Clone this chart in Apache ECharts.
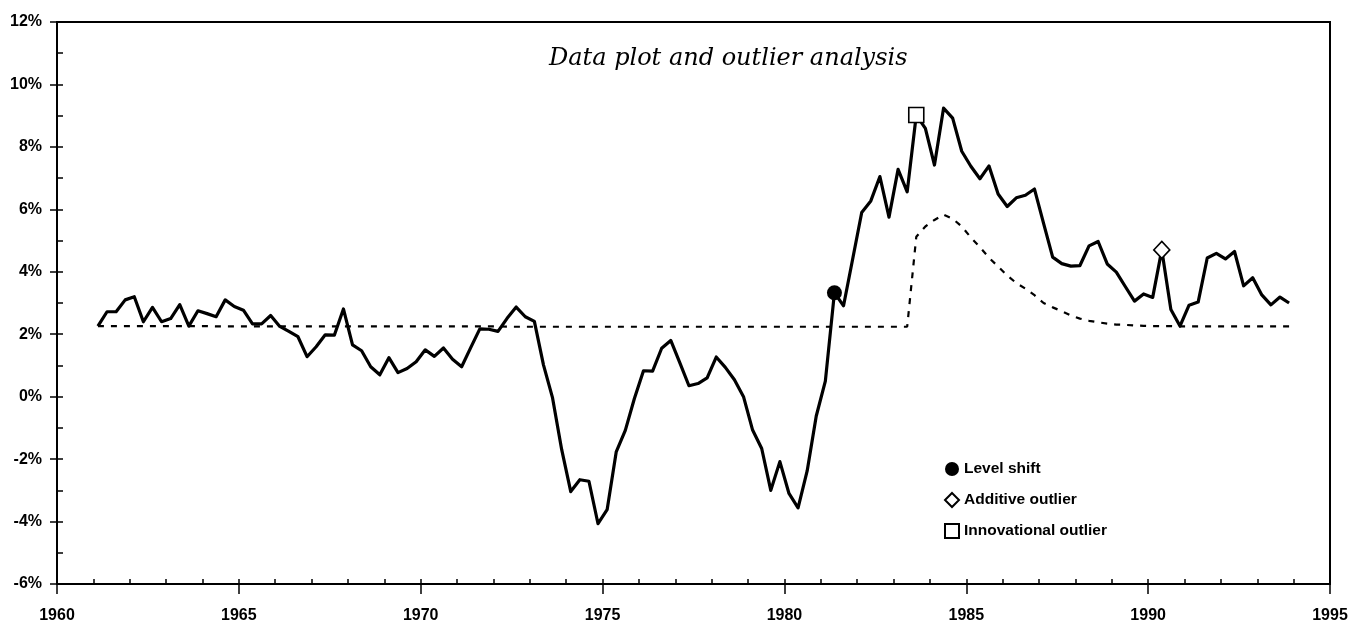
<!DOCTYPE html>
<html>
<head>
<meta charset="utf-8">
<script src="https://cdn.jsdelivr.net/npm/echarts@6/dist/echarts.min.js"></script>
<style>
  html, body { margin: 0; padding: 0; background: #fff; }
  #chart { width: 1360px; height: 640px; }
</style>
</head>
<body>
<div id="chart"></div>
<script>
// Quarterly series, 1961Q1 .. 1993Q4 (each quarter plotted at its mid-point)
const startYear = 1961;

// Observed series, percent
const actual = [
  2.26, 2.72, 2.72, 3.10, 3.20, 2.40, 2.86, 2.40, 2.50, 2.95,
  2.26, 2.75, 2.66, 2.56, 3.10, 2.89, 2.77, 2.33, 2.33, 2.60,
  2.25, 2.09, 1.92, 1.28, 1.60, 1.98, 1.97, 2.81, 1.66, 1.47,
  0.96, 0.70, 1.25, 0.77, 0.90, 1.12, 1.50, 1.29, 1.56, 1.20,
  0.96, 1.57, 2.17, 2.16, 2.09, 2.51, 2.87, 2.56, 2.41, 1.02,
  -0.04, -1.69, -3.04, -2.66, -2.71, -4.07, -3.62, -1.77, -1.08, -0.06,
  0.83, 0.82, 1.55, 1.80, 1.08, 0.35, 0.42, 0.60, 1.27, 0.94,
  0.54, 0.00, -1.07, -1.66, -3.00, -2.08, -3.10, -3.56, -2.38, -0.62,
  0.50, 3.33, 2.91, 4.40, 5.90, 6.27, 7.05, 5.75, 7.28, 6.56,
  9.02, 8.59, 7.42, 9.24, 8.92, 7.86, 7.38, 6.98, 7.39, 6.49,
  6.09, 6.37, 6.45, 6.65, 5.55, 4.47, 4.26, 4.18, 4.20, 4.83,
  4.97, 4.25, 3.99, 3.52, 3.06, 3.29, 3.18, 4.70, 2.79, 2.26,
  2.93, 3.03, 4.44, 4.59, 4.41, 4.65, 3.55, 3.81, 3.26, 2.94,
  3.19, 3.00
];

// Fitted model path, percent
const model = [
  2.26, 2.26, 2.26, 2.26, 2.26, 2.26, 2.26, 2.26, 2.26, 2.26,
  2.26, 2.26, 2.26, 2.25, 2.25, 2.25, 2.25, 2.25, 2.25, 2.25,
  2.25, 2.25, 2.25, 2.25, 2.25, 2.25, 2.25, 2.25, 2.25, 2.25,
  2.25, 2.25, 2.25, 2.25, 2.25, 2.25, 2.25, 2.25, 2.25, 2.25,
  2.25, 2.25, 2.25, 2.25, 2.25, 2.24, 2.24, 2.24, 2.24, 2.24,
  2.24, 2.24, 2.24, 2.24, 2.24, 2.24, 2.24, 2.24, 2.24, 2.24,
  2.24, 2.24, 2.24, 2.24, 2.24, 2.24, 2.24, 2.24, 2.24, 2.24,
  2.24, 2.24, 2.24, 2.24, 2.24, 2.24, 2.24, 2.24, 2.24, 2.24,
  2.24, 2.24, 2.24, 2.24, 2.24, 2.24, 2.24, 2.24, 2.24, 2.24,
  5.12, 5.45, 5.66, 5.83, 5.70, 5.45, 5.10, 4.79, 4.45, 4.17,
  3.88, 3.64, 3.46, 3.25, 3.00, 2.86, 2.74, 2.60, 2.50, 2.43,
  2.38, 2.34, 2.31, 2.30, 2.28, 2.27, 2.26, 2.26, 2.26, 2.25,
  2.25, 2.25, 2.25, 2.25, 2.25, 2.25, 2.25, 2.25, 2.25, 2.25,
  2.25, 2.25
];

// Positions (quarter index) of the detected outliers
const levelShiftAt = [81];
const additiveAt = [117];
const innovationalAt = [90];

// Axis ticks
const yearTicks = [1960, 1965, 1970, 1975, 1980, 1985, 1990, 1995];
const pctTicks = [-6, -4, -2, 0, 2, 4, 6, 8, 10, 12];

const labelFont = "'Liberation Sans', Arial, sans-serif";

const quarterDate = i => startYear + (i + 0.5) / 4;
const toPairs = arr => arr.map((v, i) => [quarterDate(i), v]);
const pick = idx => idx.map(i => [quarterDate(i), actual[i]]);

const xMin = yearTicks[0], xMax = yearTicks[yearTicks.length - 1];
const xStep = yearTicks[1] - yearTicks[0];
const yMin = pctTicks[0], yMax = pctTicks[pctTicks.length - 1];
const yStep = pctTicks[1] - pctTicks[0];

const black = '#000';

const chart = echarts.init(document.getElementById('chart'), null, { renderer: 'canvas' });

chart.setOption({
  animation: false,
  backgroundColor: '#fff',
  title: {
    text: 'Data plot and outlier analysis',
    left: 544,
    top: 42,
    textStyle: {
      fontFamily: "'DejaVu Serif', serif",
      fontStyle: 'italic',
      fontWeight: 'normal',
      fontSize: 24,
      color: black
    }
  },
  grid: {
    left: 57, right: 30, top: 22, bottom: 56,
    show: true, borderColor: black, borderWidth: 2,
    backgroundColor: 'transparent'
  },
  legend: {
    orient: 'vertical',
    left: 939,
    top: 456,
    itemWidth: 14,
    itemHeight: 14,
    itemGap: 15,
    textStyle: { fontFamily: labelFont, fontSize: 15.5, fontWeight: 'bold', color: black },
    data: [
      { name: 'Level shift', icon: 'circle' },
      { name: 'Additive outlier', icon: 'diamond' },
      { name: 'Innovational outlier', icon: 'rect' }
    ]
  },
  xAxis: [
    {
      type: 'value', min: xMin, max: xMax, interval: xStep,
      position: 'bottom',
      axisLine: { onZero: false, lineStyle: { color: black, width: 2 } },
      axisTick: { length: 10, lineStyle: { color: black, width: 1.5 } },
      axisLabel: { margin: 24, color: black, fontSize: 16, fontWeight: 'bold', fontFamily: labelFont, formatter: v => String(v) },
      splitLine: { show: false }
    },
    {
      type: 'value', min: xMin, max: xMax, interval: 1,
      position: 'bottom',
      axisLine: { show: false, onZero: false },
      axisTick: { inside: true, length: 5, lineStyle: { color: black, width: 1.5 } },
      axisLabel: { show: false },
      splitLine: { show: false }
    }
  ],
  yAxis: [
    {
      type: 'value', min: yMin, max: yMax, interval: yStep,
      position: 'left',
      axisLine: { show: true, onZero: false, lineStyle: { color: black, width: 2 } },
      axisTick: { show: true, length: 7, lineStyle: { color: black, width: 1.5 } },
      axisLabel: { margin: 15, color: black, fontSize: 16, fontWeight: 'bold', fontFamily: labelFont, formatter: v => v + '%' },
      splitLine: { show: false }
    },
    {
      type: 'value', min: yMin, max: yMax, interval: 1,
      position: 'left',
      axisLine: { show: false, onZero: false },
      axisTick: { show: true, inside: true, length: 6, lineStyle: { color: black, width: 1.5 } },
      axisLabel: { show: false },
      splitLine: { show: false }
    }
  ],
  series: [
    {
      name: 'Model',
      type: 'line',
      data: toPairs(model),
      symbol: 'none',
      lineStyle: { color: black, width: 2.2, type: [6, 7] },
      z: 2
    },
    {
      name: 'Data',
      type: 'line',
      data: toPairs(actual),
      symbol: 'none',
      lineStyle: { color: black, width: 3.2, join: 'round' },
      z: 3
    },
    {
      name: 'Level shift',
      type: 'scatter',
      data: pick(levelShiftAt),
      symbol: 'circle',
      symbolSize: 15,
      itemStyle: { color: black, opacity: 1 },
      z: 5
    },
    {
      name: 'Additive outlier',
      type: 'scatter',
      data: pick(additiveAt),
      symbol: 'diamond',
      symbolSize: [16, 17],
      itemStyle: { color: '#fff', borderColor: black, borderWidth: 1.6, opacity: 1 },
      z: 5
    },
    {
      name: 'Innovational outlier',
      type: 'scatter',
      data: pick(innovationalAt),
      symbol: 'rect',
      symbolSize: 15,
      itemStyle: { color: '#fff', borderColor: black, borderWidth: 1.6, opacity: 1 },
      z: 5
    }
  ]
});
</script>
</body>
</html>
